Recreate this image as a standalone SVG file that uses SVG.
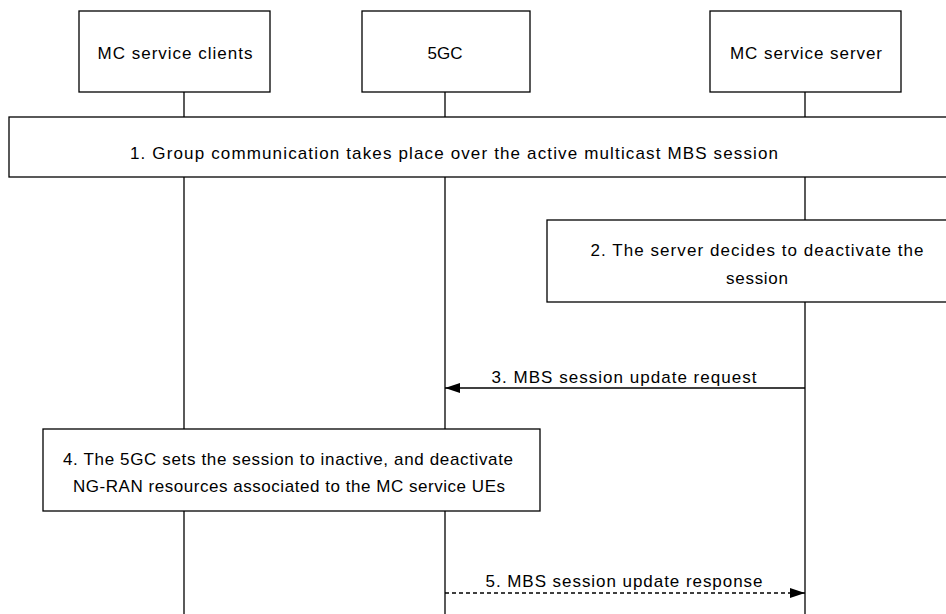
<svg xmlns="http://www.w3.org/2000/svg" width="946" height="614" viewBox="0 0 946 614">
<style>
.box{fill:#fff;stroke:#000;stroke-width:1.3}
.life{stroke:#000;stroke-width:1.3}
.t{font-family:"Liberation Sans",Arial,sans-serif;font-size:17px;fill:#000;text-anchor:middle}
.msg{stroke:#000;stroke-width:1.3;fill:none}
</style>
<defs>
<marker id="ah" markerWidth="16" markerHeight="12" refX="15" refY="5" orient="auto" markerUnits="userSpaceOnUse">
<path d="M0,0 L15,5 L0,10 Z" fill="#000"/>
</marker>
</defs>
<g id="lifelines">
<line class="life" x1="184" y1="92" x2="184" y2="614"/>
<line class="life" x1="445" y1="92" x2="445" y2="614"/>
<line class="life" x1="805" y1="92" x2="805" y2="614"/>
</g>
<g id="n-clients">
<rect class="box" x="79" y="11" width="191" height="81"/>
<text class="t" x="175" y="59" textLength="155" lengthAdjust="spacing">MC service clients</text>
</g>
<g id="n-5gc">
<rect class="box" x="362" y="11" width="168" height="81"/>
<text class="t" x="445" y="59" textLength="35" lengthAdjust="spacing">5GC</text>
</g>
<g id="n-server">
<rect class="box" x="710" y="11" width="191" height="81"/>
<text class="t" x="806" y="59" textLength="152" lengthAdjust="spacing">MC service server</text>
</g>
<g id="step1">
<rect class="box" x="9" y="117" width="950" height="60"/>
<text class="t" x="454" y="159" textLength="648" lengthAdjust="spacing">1. Group communication takes place over the active multicast MBS session</text>
</g>
<g id="step2">
<rect class="box" x="547" y="220" width="412" height="82"/>
<text class="t" x="757" y="256" textLength="333" lengthAdjust="spacing">2. The server decides to deactivate the</text>
<text class="t" x="757" y="284" textLength="62" lengthAdjust="spacing">session</text>
</g>
<g id="step4">
<rect class="box" x="43" y="429" width="497" height="82"/>
<text class="t" x="288" y="465" textLength="450" lengthAdjust="spacing">4. The 5GC sets the session to inactive, and deactivate</text>
<text class="t" x="289" y="492" textLength="432" lengthAdjust="spacing">NG-RAN resources associated to the MC service UEs</text>
</g>
<g id="connectors">
<line class="msg" x1="805" y1="388" x2="445" y2="388" marker-end="url(#ah)"/>
<text class="t" x="624" y="383" textLength="265" lengthAdjust="spacing">3. MBS session update request</text>
<line class="msg" x1="445" y1="593" x2="805" y2="593" stroke-dasharray="4,3" marker-end="url(#ah)"/>
<text class="t" x="624" y="587" textLength="277" lengthAdjust="spacing">5. MBS session update response</text>
</g>
</svg>
